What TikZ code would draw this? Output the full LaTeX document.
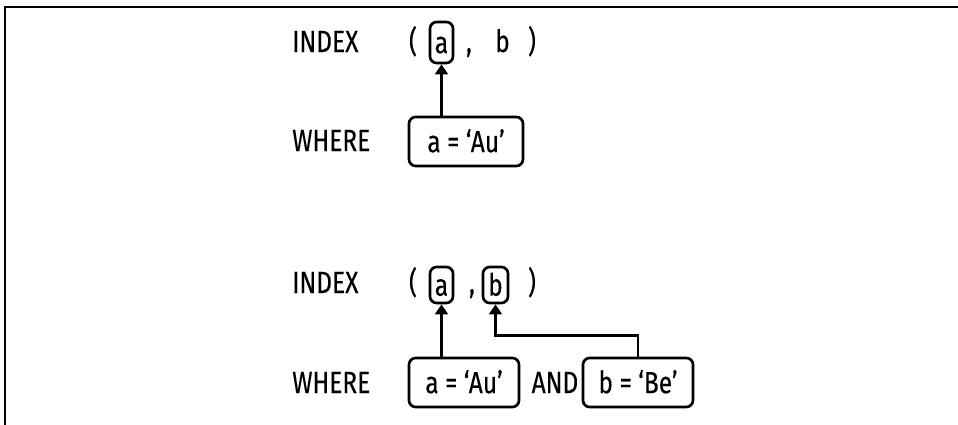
\documentclass[tikz,border=0pt]{standalone}
\usepackage{fontspec}
\setmainfont{Fira Sans}[FakeStretch=0.8,FakeBold=0.2]
\usetikzlibrary{arrows.meta,calc}
\tikzset{
  lbl/.style={anchor=base, inner sep=0pt, font=\fontsize{23}{27}\selectfont},
  rbox/.style={draw, line width=2pt, rounded corners=5pt, inner sep=0pt, font=\fontsize{23}{27}\selectfont, text height=16pt, text depth=0pt},
  arr/.style={line width=2pt, -{Triangle[length=7.5pt,width=9.5pt]}},
  conn/.style={line width=2pt}
}
\begin{document}
\begin{tikzpicture}[x=0.75pt,y=-0.75pt]
\useasboundingbox (0,0) rectangle (958,425);
% frame
\draw[line width=1.8pt] (958,7) -- (5,7) -- (5,425);
% ---------- top ----------
\node[lbl, anchor=base west] (idx1) at (292,52) {INDEX};
\node[lbl] (lp1) at (413,52) {(};
\node[rbox, minimum width=17.25pt, minimum height=30.75pt] (a1) at (441.5,42.5) {a};
\node[lbl] (cm1) at (469,52) {,};
\node[lbl] (b1) at (502.5,52) {b};
\node[lbl] (rp1) at (532,52) {)};
\node[lbl, anchor=base west] (wh1) at (292,151) {WHERE};
\node[rbox, minimum width=85.5pt, minimum height=36.75pt] (au1) at (466,141.5) {a = ‘Au’};
\draw[arr] (au1.north -| a1.south) -- (a1.south);
% ---------- bottom ----------
\node[lbl, anchor=base west] (idx2) at (292,293) {INDEX};
\node[lbl] (lp2) at (413,293) {(};
\node[rbox, minimum width=17.25pt, minimum height=27pt] (a2) at (441.5,285) {a};
\node[lbl] (cm2) at (472,293) {,};
\node[rbox, minimum width=18.75pt, minimum height=27pt] (b2) at (495.5,285) {b};
\node[lbl] (rp2) at (532,293) {)};
\node[lbl, anchor=base west] (wh2) at (292,393) {WHERE};
\node[rbox, minimum width=82.5pt, minimum height=36.75pt] (au2) at (464,382.5) {a = ‘Au’};
\node[lbl] (and) at (555,393) {AND};
\node[rbox, minimum width=82.5pt, minimum height=36.75pt] (be2) at (638,382.5) {b = ‘Be’};
\draw[arr] (au2.north -| a2.south) -- (a2.south);
\draw[arr] (be2.north) -- ++(0,-21) -| (b2.south);
\end{tikzpicture}
\end{document}
